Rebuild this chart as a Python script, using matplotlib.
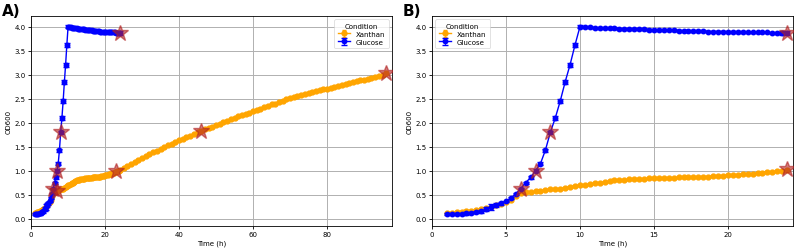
import numpy as np
import matplotlib
matplotlib.use("Agg")
import matplotlib.pyplot as plt

# Glucose: sampled every 20 min, 1 h to 24 h
glc_t = np.linspace(1, 24, 70)
glc_od = [0.10, 0.10, 0.10, 0.10, 0.11, 0.12, 0.14, 0.16, 0.20, 0.25,
          0.28, 0.32, 0.36, 0.43, 0.52, 0.63, 0.75, 0.86, 1.00, 1.15,
          1.43, 1.80, 2.10, 2.45, 2.85, 3.21, 3.62, 4.00,
          3.99, 3.99, 3.98, 3.98, 3.97, 3.97, 3.97, 3.96, 3.96, 3.96,
          3.95, 3.95, 3.95, 3.94, 3.94, 3.94, 3.93, 3.93, 3.93, 3.92,
          3.92, 3.92, 3.91, 3.91, 3.91, 3.90, 3.90, 3.90, 3.90, 3.89,
          3.89, 3.89, 3.89, 3.88, 3.88, 3.88, 3.88, 3.88, 3.87, 3.87,
          3.87, 3.87]
glc_err = [0.02, 0.02, 0.03, 0.02, 0.03, 0.03, 0.02, 0.03, 0.04, 0.06,
           0.04, 0.03, 0.02, 0.02, 0.02, 0.02, 0.02, 0.03, 0.03, 0.03,
           0.03, 0.03, 0.04, 0.04, 0.05, 0.04, 0.04, 0.03,
           0.02, 0.02, 0.02, 0.02, 0.02, 0.02, 0.02, 0.02, 0.02, 0.02,
           0.02, 0.02, 0.02, 0.02, 0.02, 0.02, 0.02, 0.02, 0.02, 0.02,
           0.02, 0.02, 0.02, 0.02, 0.02, 0.02, 0.02, 0.02, 0.02, 0.02,
           0.02, 0.02, 0.02, 0.02, 0.02, 0.02, 0.02, 0.02, 0.03, 0.03,
           0.04, 0.05]

# Xanthan: every 20 min up to 24 h, then hourly up to 96 h
xan_t = np.concatenate([np.linspace(1, 24, 70), np.arange(25, 97)])
xan_od = [0.13, 0.13, 0.14, 0.15, 0.16, 0.17, 0.19, 0.21, 0.23, 0.25,
          0.28, 0.31, 0.35, 0.40, 0.47, 0.53, 0.55, 0.56, 0.57, 0.58,
          0.60, 0.61, 0.62, 0.63, 0.65, 0.67, 0.68, 0.70,
          0.71, 0.72, 0.74, 0.75, 0.77, 0.78, 0.80, 0.81, 0.81, 0.82,
          0.82, 0.83, 0.83, 0.84, 0.84, 0.84, 0.85, 0.85, 0.85, 0.86,
          0.86, 0.86, 0.87, 0.87, 0.88, 0.88, 0.89, 0.89, 0.90, 0.91,
          0.91, 0.92, 0.93, 0.93, 0.94, 0.95, 0.96, 0.97, 0.98, 0.99,
          1.00, 1.02,
          1.06, 1.10, 1.14, 1.18, 1.22, 1.26, 1.30, 1.34, 1.38, 1.42,
          1.46, 1.49, 1.53, 1.56, 1.60, 1.63, 1.66, 1.70, 1.73, 1.77,
          1.80, 1.83, 1.86, 1.89, 1.92, 1.95, 1.98, 2.01, 2.04, 2.07,
          2.10, 2.13, 2.16, 2.18, 2.21, 2.24, 2.27, 2.29, 2.32, 2.35,
          2.38, 2.40, 2.43, 2.46, 2.49, 2.51, 2.53, 2.56, 2.58, 2.60,
          2.62, 2.64, 2.66, 2.68, 2.70, 2.71, 2.73, 2.75, 2.77, 2.79,
          2.81, 2.83, 2.85, 2.87, 2.89, 2.90, 2.92, 2.94, 2.96, 2.98,
          3.00, 3.03]
xan_err = [0.02] * len(xan_od)

# Sampling points marked with stars
star_glc_t = [6, 7, 8, 24]
star_glc_od = [0.63, 1.00, 1.80, 3.87]
star_xan_t_a = [7, 23, 46, 96]
star_xan_od_a = [0.57, 1.00, 1.83, 3.03]
star_xan_t_b = [24]
star_xan_od_b = [1.03]

fs = 5
fig = plt.figure(figsize=(7.97, 2.53), dpi=100)
axA = fig.add_axes([0.039, 0.103, 0.453, 0.831])
axB = fig.add_axes([0.542, 0.103, 0.453, 0.831])


def draw(ax, tmax, stars_xan, loc):
    xt = np.array(xan_t)
    xo = np.array(xan_od)
    xe = np.array(xan_err)
    keep = xt <= tmax
    ax.errorbar(xt[keep], xo[keep], yerr=xe[keep], color="orange", marker="o",
                ms=3.5, lw=1, elinewidth=0.6, capsize=1.5, label="Xanthan", zorder=2)
    ax.errorbar(glc_t, glc_od, yerr=glc_err, color="blue", marker="o",
                ms=3.2, lw=1, elinewidth=0.6, capsize=2, ecolor="blue", label="Glucose", zorder=3)
    ax.plot(star_glc_t, star_glc_od, "*", color="firebrick", ms=12, alpha=0.6, zorder=4)
    ax.plot(stars_xan[0], stars_xan[1], "*", color="firebrick", ms=12, alpha=0.6, zorder=4)
    ax.set_ylim(-0.15, 4.23)
    ax.set_yticks(np.arange(0, 4.01, 0.5))
    ax.grid(True, color="#b0b0b0", lw=0.7)
    ax.set_axisbelow(True)
    ax.tick_params(labelsize=fs, length=2.5, width=0.6, pad=1.5)
    ax.set_xlabel("Time (h)", fontsize=fs, labelpad=1.5)
    ax.set_ylabel("OD600", fontsize=fs, labelpad=2)
    for s in ax.spines.values():
        s.set_linewidth(0.6)
    leg = ax.legend(title="Condition", loc=loc, fontsize=fs, title_fontsize=fs,
                    framealpha=0.8, borderpad=0.5, handlelength=1.8, labelspacing=0.3)
    leg.get_frame().set_linewidth(0.5)


draw(axA, 96, (star_xan_t_a, star_xan_od_a), "upper right")
axA.set_xlim(0, 97.6)
axA.set_xticks([0, 20, 40, 60, 80])

draw(axB, 24, (star_xan_t_b, star_xan_od_b), "upper left")
axB.set_xlim(0, 24.4)
axB.set_xticks([0, 5, 10, 15, 20])

fig.text(0.003, 0.985, "A)", fontsize=11, fontweight="bold", va="top")
fig.text(0.505, 0.985, "B)", fontsize=11, fontweight="bold", va="top")

fig.savefig("out.png", dpi=100)
